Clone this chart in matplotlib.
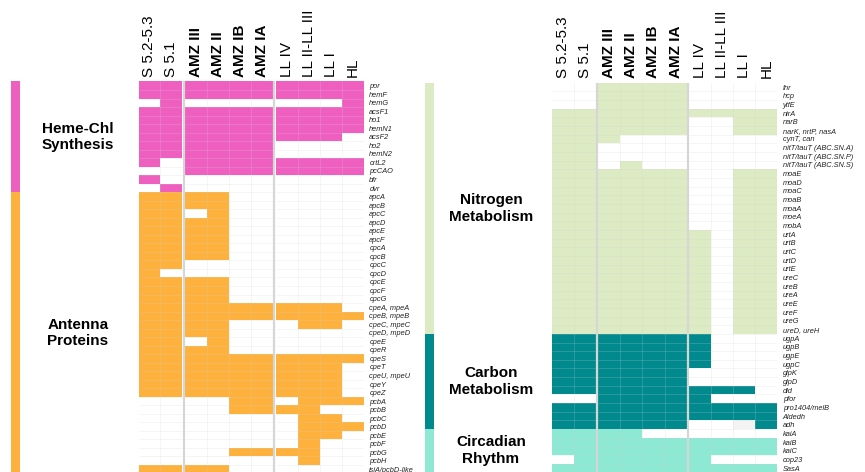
import numpy as np
import matplotlib
matplotlib.use("Agg")
import matplotlib.pyplot as plt
from matplotlib.colors import ListedColormap, BoundaryNorm
from matplotlib.transforms import blended_transform_factory

plt.rcParams['font.family'] = ['Liberation Sans', 'DejaVu Sans']

# ---------------- data ----------------
clades = ["S 5.2-5.3", "S 5.1", "AMZ III", "AMZ II", "AMZ IB", "AMZ IA",
          "LL IV", "LL II-LL III", "LL I", "HL"]
bold_clades = ["AMZ III", "AMZ II", "AMZ IB", "AMZ IA"]
group_sizes = [2, 4, 4]

heme_genes = ["por", "hemF", "hemG", "acsF1", "ho1", "hemN1", "acsF2", "ho2",
              "hemN2", "crtL2", "pcCAO", "bfr", "dvr"]
heme_presence = [
    [1, 1, 1, 1, 1, 1, 1, 1, 1, 1],
    [1, 1, 1, 1, 1, 1, 1, 1, 1, 1],
    [0, 1, 0, 0, 0, 0, 0, 0, 0, 1],
    [1, 1, 1, 1, 1, 1, 1, 1, 1, 1],
    [1, 1, 1, 1, 1, 1, 1, 1, 1, 1],
    [1, 1, 1, 1, 1, 1, 1, 1, 1, 1],
    [1, 1, 1, 1, 1, 1, 1, 1, 1, 0],
    [1, 1, 1, 1, 1, 1, 0, 0, 0, 0],
    [1, 1, 1, 1, 1, 1, 0, 0, 0, 0],
    [1, 0, 1, 1, 1, 1, 1, 1, 1, 1],
    [0, 0, 1, 1, 1, 1, 1, 1, 1, 1],
    [1, 0, 0, 0, 0, 0, 0, 0, 0, 0],
    [0, 1, 0, 0, 0, 0, 0, 0, 0, 0],
]

antenna_genes = ["apcA", "apcB", "apcC", "apcD", "apcE", "apcF", "cpcA", "cpcB",
                 "cpcC", "cpcD", "cpcE", "cpcF", "cpcG", "cpeA, mpeA", "cpeB, mpeB",
                 "cpeC, mpeC", "cpeD, mpeD", "cpeE", "cpeR", "cpeS", "cpeT",
                 "cpeU, mpeU", "cpeY", "cpeZ", "pcbA", "pcbB", "pcbC", "pcbD",
                 "pcbE", "pcbF", "pcbG", "pcbH", "isiA/pcbD-like"]
antenna_presence = [
    [1, 1, 1, 1, 0, 0, 0, 0, 0, 0],
    [1, 1, 1, 1, 0, 0, 0, 0, 0, 0],
    [1, 1, 0, 1, 0, 0, 0, 0, 0, 0],
    [1, 1, 1, 1, 0, 0, 0, 0, 0, 0],
    [1, 1, 1, 1, 0, 0, 0, 0, 0, 0],
    [1, 1, 1, 1, 0, 0, 0, 0, 0, 0],
    [1, 1, 1, 1, 0, 0, 0, 0, 0, 0],
    [1, 1, 1, 1, 0, 0, 0, 0, 0, 0],
    [1, 1, 0, 0, 0, 0, 0, 0, 0, 0],
    [1, 0, 0, 0, 0, 0, 0, 0, 0, 0],
    [1, 1, 1, 1, 0, 0, 0, 0, 0, 0],
    [1, 1, 1, 1, 0, 0, 0, 0, 0, 0],
    [1, 1, 1, 1, 0, 0, 0, 0, 0, 0],
    [1, 1, 1, 1, 1, 1, 1, 1, 1, 0],
    [1, 1, 1, 1, 1, 1, 1, 1, 1, 1],
    [1, 1, 1, 1, 0, 0, 0, 1, 1, 0],
    [1, 1, 1, 1, 0, 0, 0, 0, 0, 0],
    [1, 1, 0, 1, 0, 0, 0, 0, 0, 0],
    [1, 1, 1, 1, 0, 0, 0, 0, 0, 0],
    [1, 1, 1, 1, 1, 1, 1, 1, 1, 1],
    [1, 1, 1, 1, 1, 1, 1, 1, 1, 0],
    [1, 1, 1, 1, 1, 1, 1, 1, 1, 0],
    [1, 1, 1, 1, 1, 1, 1, 1, 1, 0],
    [1, 1, 1, 1, 1, 1, 1, 1, 1, 0],
    [0, 0, 0, 0, 1, 1, 0, 1, 1, 1],
    [0, 0, 0, 0, 1, 1, 1, 1, 0, 0],
    [0, 0, 0, 0, 0, 0, 0, 1, 1, 0],
    [0, 0, 0, 0, 0, 0, 0, 1, 1, 1],
    [0, 0, 0, 0, 0, 0, 0, 1, 1, 0],
    [0, 0, 0, 0, 0, 0, 0, 1, 0, 0],
    [0, 0, 0, 0, 1, 1, 1, 1, 0, 0],
    [0, 0, 0, 0, 0, 0, 0, 1, 0, 0],
    [1, 1, 1, 1, 0, 0, 0, 0, 0, 0],
]

nitrogen_genes = ["fnr", "hcp", "ytfE", "nirA", "narB", "narK, nrtP, nasA", "cynT, can",
                  "nitT/tauT (ABC.SN.A)", "nitT/tauT (ABC.SN.P)", "nitT/tauT (ABC.SN.S)",
                  "moaE", "moaD", "moaC", "moaB", "moaA", "moeA", "mobA", "urtA", "urtB",
                  "urtC", "urtD", "urtE", "ureC", "ureB", "ureA", "ureE", "ureF", "ureG",
                  "ureD, ureH"]
nitrogen_presence = [
    [0, 0, 1, 1, 1, 1, 0, 0, 0, 0],
    [0, 0, 1, 1, 1, 1, 0, 0, 0, 0],
    [0, 0, 1, 1, 1, 1, 0, 0, 0, 0],
    [1, 1, 1, 1, 1, 1, 1, 1, 1, 1],
    [1, 1, 1, 1, 1, 1, 0, 0, 1, 1],
    [1, 1, 1, 1, 1, 1, 0, 0, 1, 1],
    [1, 1, 1, 0, 0, 0, 0, 0, 0, 0],
    [1, 1, 0, 0, 0, 0, 0, 0, 0, 0],
    [1, 1, 0, 0, 0, 0, 0, 0, 0, 0],
    [1, 1, 0, 1, 0, 0, 0, 0, 0, 0],
    [1, 1, 1, 1, 1, 1, 0, 0, 1, 1],
    [1, 1, 1, 1, 1, 1, 0, 0, 1, 1],
    [1, 1, 1, 1, 1, 1, 0, 0, 1, 1],
    [1, 1, 1, 1, 1, 1, 0, 0, 1, 1],
    [1, 1, 1, 1, 1, 1, 0, 0, 1, 1],
    [1, 1, 1, 1, 1, 1, 0, 0, 1, 1],
    [1, 1, 1, 1, 1, 1, 0, 0, 1, 1],
    [1, 1, 1, 1, 1, 1, 1, 0, 1, 1],
    [1, 1, 1, 1, 1, 1, 1, 0, 1, 1],
    [1, 1, 1, 1, 1, 1, 1, 0, 1, 1],
    [1, 1, 1, 1, 1, 1, 1, 0, 1, 1],
    [1, 1, 1, 1, 1, 1, 1, 0, 1, 1],
    [1, 1, 1, 1, 1, 1, 1, 0, 1, 1],
    [1, 1, 1, 1, 1, 1, 1, 0, 1, 1],
    [1, 1, 1, 1, 1, 1, 1, 0, 1, 1],
    [1, 1, 1, 1, 1, 1, 1, 0, 1, 1],
    [1, 1, 1, 1, 1, 1, 1, 0, 1, 1],
    [1, 1, 1, 1, 1, 1, 1, 0, 1, 1],
    [1, 1, 1, 1, 1, 1, 1, 0, 1, 1],
]

carbon_genes = ["ugpA", "ugpB", "ugpE", "ugpC", "glpK", "glpD", "dld", "pfor",
                "pro1404/melB", "Aldedh", "adh"]
carbon_presence = [
    [1, 1, 1, 1, 1, 1, 1, 0, 0, 0],
    [1, 1, 1, 1, 1, 1, 1, 0, 0, 0],
    [1, 1, 1, 1, 1, 1, 1, 0, 0, 0],
    [1, 1, 1, 1, 1, 1, 1, 0, 0, 0],
    [1, 1, 1, 1, 1, 1, 0, 0, 0, 0],
    [1, 1, 1, 1, 1, 1, 0, 0, 0, 0],
    [1, 1, 1, 1, 1, 1, 1, 1, 1, 0],
    [0, 0, 1, 1, 1, 1, 1, 0, 0, 0],
    [1, 1, 1, 1, 1, 1, 1, 1, 1, 1],
    [1, 1, 1, 1, 1, 1, 1, 1, 1, 1],
    [1, 1, 1, 1, 1, 1, 0, 0, 0.5, 1],
]

circadian_genes = ["kaiA", "kaiB", "kaiC", "cop23", "SasA"]
circadian_presence = [
    [1, 1, 1, 1, 0, 0, 0, 0, 0, 0],
    [1, 1, 1, 1, 1, 1, 1, 1, 1, 1],
    [1, 1, 1, 1, 1, 1, 1, 1, 1, 1],
    [0, 1, 1, 1, 1, 1, 1, 0, 0, 0],
    [1, 1, 1, 1, 1, 1, 1, 1, 1, 1],
]

left_sections = [("Heme-Chl\nSynthesis", heme_genes, heme_presence, "#EF5FBF"),
                 ("Antenna\nProteins", antenna_genes, antenna_presence, "#FEB13C")]
right_sections = [("Nitrogen\nMetabolism", nitrogen_genes, nitrogen_presence, "#DDEBC4"),
                  ("Carbon\nMetabolism", carbon_genes, carbon_presence, "#008A8E"),
                  ("Circadian\nRhythm", circadian_genes, circadian_presence, "#8EE9D4")]

PARTIAL_COLOR = "#F3F3F3"
GRID_COLOR = "#D0D0D0"
SEP_COLOR = "#D6D6D6"

W, H = 865, 472
fig = plt.figure(figsize=(W / 100, H / 100), dpi=100)

GAP = 0.12


def col_layout():
    edges = [0.0]
    centers = []
    seps = []
    ranges = []
    x = 0.0
    for gi, n in enumerate(group_sizes):
        if gi > 0:
            seps.append(x + GAP / 2)
            x += GAP
            edges.append(x)
        g0 = x
        for _ in range(n):
            centers.append(x + 0.5)
            x += 1
            edges.append(x)
        ranges.append((g0, x))
    return np.array(edges), centers, seps, ranges, x


def draw_panel(rect, sections, strip_rect, label_x):
    ax = fig.add_axes(rect)
    genes = []
    codes = []
    colors = ["white"]
    for si, (_, g, p, c) in enumerate(sections):
        colors.append(c)
        genes += g
        for row in p:
            codes.append([(si + 1) if v == 1 else (len(sections) + 1 if v == 0.5 else 0)
                          for v in row])
    colors.append(PARTIAL_COLOR)
    codes = np.array(codes, dtype=float)
    n = len(genes)
    edges, centers, seps, ranges, total = col_layout()
    full = []
    ci = 0
    for gi, ng in enumerate(group_sizes):
        if gi > 0:
            full.append(np.full(n, np.nan))
        for _ in range(ng):
            full.append(codes[:, ci])
            ci += 1
    M = np.ma.masked_invalid(np.column_stack(full))
    cmap = ListedColormap(colors)
    norm = BoundaryNorm(np.arange(-0.5, len(colors) + 0.5), cmap.N)
    ax.pcolormesh(edges, np.arange(n + 1), M, cmap=cmap, norm=norm,
                  antialiased=False, linewidth=0)
    # faint cell grid
    for (g0, g1) in ranges:
        ax.hlines(np.arange(1, n), g0, g1, color=GRID_COLOR, lw=0.5, alpha=0.3)
        ax.vlines(np.arange(g0 + 1, g1), 0, n, color=GRID_COLOR, lw=0.5, alpha=0.3)
    for s in seps:
        ax.axvline(s, color=SEP_COLOR, lw=1.6)
    ax.set_xlim(0, total)
    ax.set_ylim(n, 0)
    ax.xaxis.tick_top()
    ax.set_xticks(centers)
    ax.set_xticklabels(clades, rotation=90, fontsize=11)
    for t in ax.get_xticklabels():
        if t.get_text() in bold_clades:
            t.set_fontweight("bold")
    ax.yaxis.tick_right()
    ax.set_yticks(np.arange(n) + 0.5)
    ax.set_yticklabels(genes, fontsize=5.3, style="italic", color="#222222")
    ax.tick_params(length=0, pad=3.5)
    ax.tick_params(axis="y", pad=4)
    for sp in ax.spines.values():
        sp.set_visible(False)

    # category strip
    sax = fig.add_axes(strip_rect)
    scodes = []
    for si, (_, g, p, c) in enumerate(sections):
        scodes += [si] * len(g)
    scmap = ListedColormap([s[3] for s in sections])
    sax.pcolormesh([0, 1], np.arange(n + 1), np.array(scodes, dtype=float)[:, None],
                   cmap=scmap, vmin=-0.5, vmax=len(sections) - 0.5, antialiased=False)
    sax.set_ylim(n, 0)
    sax.set_xlim(0, 1)
    sax.axis("off")

    # section labels
    tr = blended_transform_factory(fig.transFigure, ax.transData)
    start = 0
    for (lab, g, p, c) in sections:
        mid = start + len(g) / 2
        ax.text(label_x, mid, lab, transform=tr, ha="center", va="center",
                fontsize=11, fontweight="bold", linespacing=1.25, clip_on=False)
        start += len(g)
    return ax


# left panel
lt, lb = 81.5, 473.5
draw_panel([138.5 / W, 1 - lb / H, (363.7 - 138.5) / W, (lb - lt) / H],
           left_sections,
           [11 / W, 1 - lb / H, 9 / W, (lb - lt) / H], 78 / W)

# right panel
rt, rb = 82.7, 472.4
draw_panel([551.7 / W, 1 - rb / H, (777.3 - 551.7) / W, (rb - rt) / H],
           right_sections,
           [425 / W, 1 - rb / H, 9 / W, (rb - rt) / H], 491 / W)

fig.savefig("out.png", dpi=100)
